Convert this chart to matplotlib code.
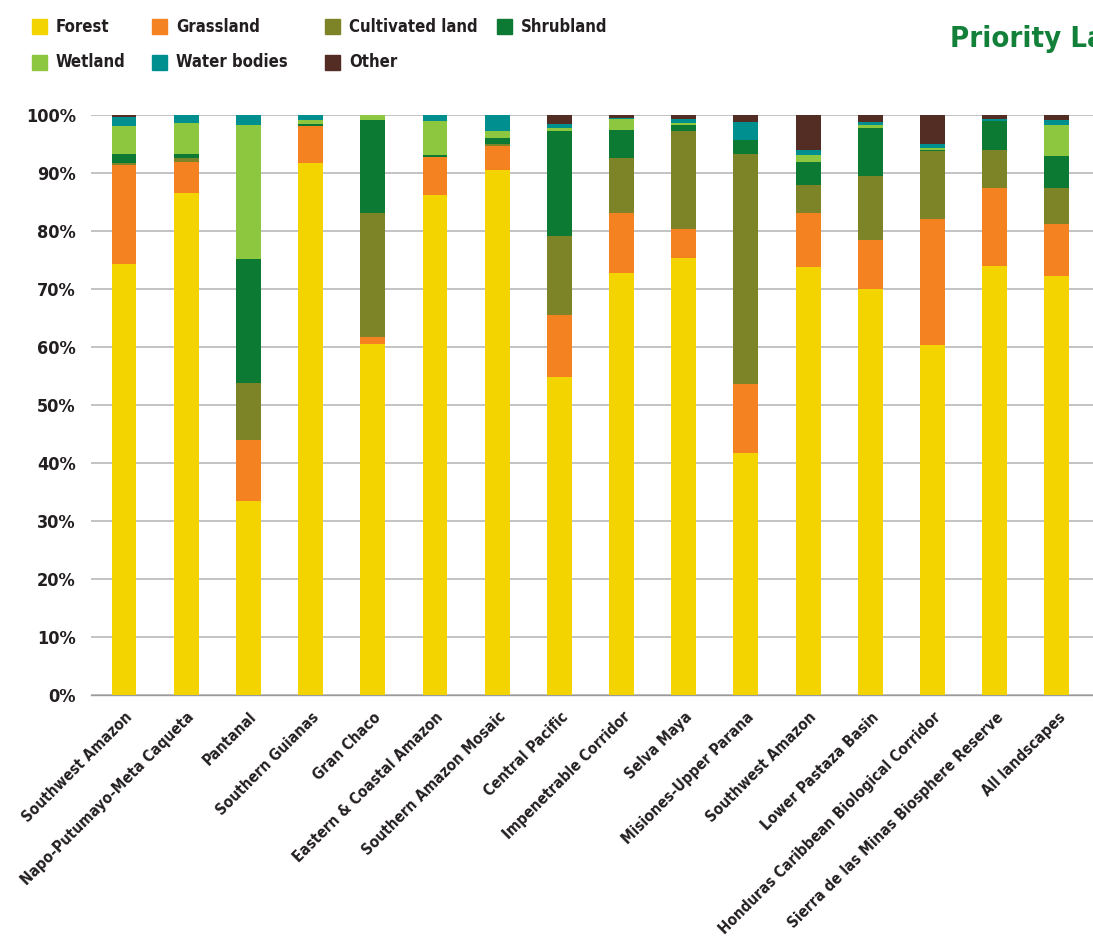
import numpy as np
import matplotlib
matplotlib.use("Agg")
import matplotlib.pyplot as plt
from matplotlib import font_manager as fm
from matplotlib.patches import Rectangle
from matplotlib.transforms import ScaledTranslation

landscapes = ["Southwest Amazon", "Napo-Putumayo-Meta Caqueta", "Pantanal",
              "Southern Guianas", "Gran Chaco", "Eastern & Coastal Amazon",
              "Southern Amazon Mosaic", "Central Pacific", "Impenetrable Corridor",
              "Selva Maya", "Misiones-Upper Parana", "Southwest Amazon",
              "Lower Pastaza Basin", "Honduras Caribbean Biological Corridor",
              "Sierra de las Minas Biosphere Reserve", "All landscapes"]

# share of each land cover class (%)
forest = [74.35, 86.6, 33.5, 91.8, 60.6, 86.3, 90.6, 54.9, 72.8, 75.4, 41.8, 73.85, 70.05, 60.4, 74.0, 72.3]
grassland = [17.1, 5.35, 10.5, 6.4, 1.2, 6.55, 4.1, 10.7, 10.35, 5.0, 11.9, 9.3, 8.45, 21.75, 13.45, 8.95]
cultivated = [0.35, 0.7, 9.9, 0.0, 21.4, 0.0, 0.35, 13.6, 9.5, 16.9, 39.6, 4.85, 11.05, 11.7, 6.55, 6.2]
shrubland = [1.55, 0.7, 21.4, 0.35, 16.0, 0.35, 1.05, 18.1, 4.85, 1.05, 2.45, 3.95, 8.3, 0.2, 5.0, 5.5]
wetland = [4.8, 5.35, 23.1, 0.65, 0.8, 5.85, 1.2, 0.5, 1.9, 0.35, 0.0, 1.2, 0.5, 0.35, 0.0, 5.35]
water = [1.5, 1.3, 1.6, 0.8, 0.0, 0.95, 2.7, 0.7, 0.2, 0.7, 3.1, 0.85, 0.5, 0.65, 0.35, 0.85]
other = [0.35, 0.0, 0.0, 0.0, 0.0, 0.0, 0.0, 1.5, 0.4, 0.6, 1.15, 6.0, 1.15, 4.95, 0.65, 0.85]

classes = ["Forest", "Grassland", "Cultivated land", "Shrubland", "Wetland", "Water bodies", "Other"]
colors = ["#f3d300", "#f58220", "#7c8427", "#0c7a33", "#8dc63f", "#008f8f", "#532d24"]


def narrow_bold_font():
    # look for a condensed bold face among the installed fonts
    for f in fm.fontManager.ttflist:
        narrow = "Narrow" in f.name or "Condensed" in f.name or "condensed" in str(f.stretch)
        if narrow and f.weight in (600, 700, 800, "bold", "semibold") and f.style == "normal":
            return fm.FontProperties(fname=f.fname)
    return None


fp = narrow_bold_font()
if fp is not None:
    sizes = dict(ytick=13, xtick=11, legend=12, title=21)
else:
    fp = fm.FontProperties(family="DejaVu Sans", weight="bold")
    sizes = dict(ytick=11.5, xtick=9.5, legend=11, title=19)

W, H = 1093, 936
fig = plt.figure(figsize=(W / 100, H / 100), dpi=100)


def px_box(left, top, right, bottom):
    return [left / W, 1 - bottom / H, (right - left) / W, (bottom - top) / H]


def font(size):
    p = fp.copy()
    p.set_size(size)
    return p


ax = fig.add_axes(px_box(91, 115.3, 1093, 695.3))

x = np.arange(len(landscapes))
bottom = np.zeros(len(landscapes))
for name, vals, col in zip(classes, [forest, grassland, cultivated, shrubland, wetland, water, other], colors):
    ax.bar(x, vals, width=0.4, bottom=bottom, color=col, label=name, zorder=3)
    bottom += np.array(vals)

ax.set_xlim(-0.53, 15.58)
ax.set_ylim(0, 100)
ax.set_yticks(np.arange(0, 101, 10))
ax.set_yticklabels(["{}%".format(v) for v in range(0, 101, 10)],
                   fontproperties=font(sizes["ytick"]), color="#231f20")
ax.yaxis.grid(True, color="#b3b3b3", linewidth=1.1, zorder=0)
ax.tick_params(axis="y", length=0, pad=11)
ax.tick_params(axis="x", length=0, pad=14)
for s in ["top", "right", "left"]:
    ax.spines[s].set_visible(False)
ax.spines["bottom"].set_color("#9a9a9a")
ax.spines["bottom"].set_linewidth(1.0)
ax.set_axisbelow(True)

ax.set_xticks(x)
ax.set_xticklabels(landscapes, fontproperties=font(sizes["xtick"]), color="#231f20")
shift = ScaledTranslation(6 / 100, 0, fig.dpi_scale_trans)
for lab in ax.get_xticklabels():
    lab.set(rotation=45, ha="right", va="center", rotation_mode="anchor")
    lab.set_transform(lab.get_transform() + shift)

# legend: two rows of colour swatches
legend_pos = [(32, 26.5), (152, 26.5), (325, 26.5), (497, 26.5),
              (32, 62), (152, 62), (325, 62)]
for (lx, ly), name, col in zip(legend_pos, classes, colors):
    fig.add_artist(Rectangle((lx / W, 1 - (ly + 7.5) / H), 15 / W, 15 / H,
                             transform=fig.transFigure, color=col))
    fig.text((lx + 24) / W, 1 - ly / H, name, fontproperties=font(sizes["legend"]),
             color="#231f20", ha="left", va="center")

fig.text(950 / W, 1 - 46.7 / H, "Priority Landscapes", fontproperties=font(sizes["title"]),
         color="#13803a", ha="left", va="baseline")

fig.savefig("out.png", dpi=100)
